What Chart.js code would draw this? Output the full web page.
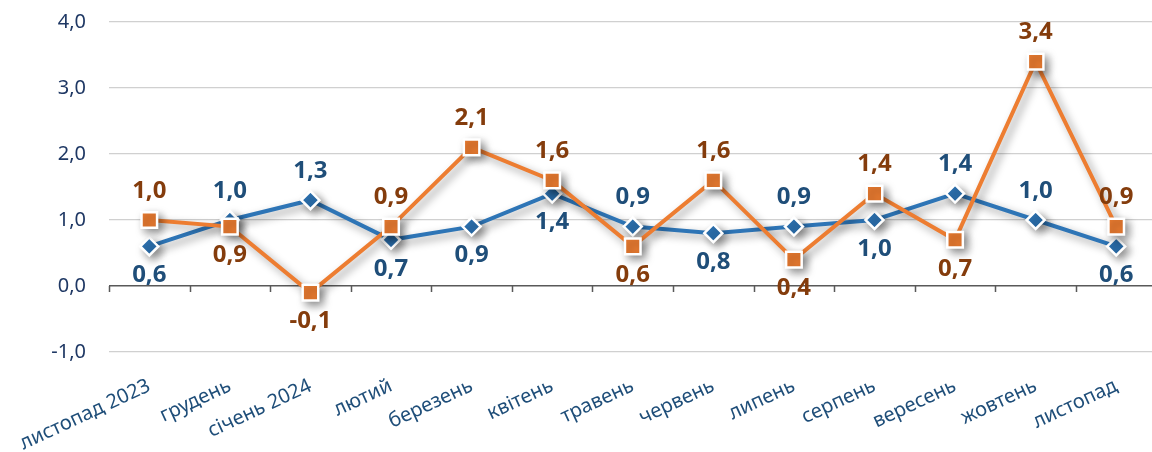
<!DOCTYPE html>
<html>
<head>
<meta charset="utf-8">
<script src="https://cdn.jsdelivr.net/npm/chart.js@4.4.1/dist/chart.umd.min.js"></script>
<style>
  html, body { margin: 0; padding: 0; background: #fff; overflow: hidden; }
  #wrap { width: 1170px; height: 452px; }
</style>
</head>
<body>
<div id="wrap"><canvas id="chart" width="1170" height="452"></canvas></div>
<script>
const months = ['листопад 2023', 'грудень', 'січень 2024', 'лютий', 'березень', 'квітень',
  'травень', 'червень', 'липень', 'серпень', 'вересень', 'жовтень', 'листопад'];
const blueValues = [0.6, 1.0, 1.3, 0.7, 0.9, 1.4, 0.9, 0.8, 0.9, 1.0, 1.4, 1.0, 0.6];
const orangeValues = [1.0, 0.9, -0.1, 0.9, 2.1, 1.6, 0.6, 1.6, 0.4, 1.4, 0.7, 3.4, 0.9];
const yTicks = [-1, 0, 1, 2, 3, 4];

// where each data label sits relative to its point (1 = above, -1 = below)
const blueLabelSide = [-1, 1, 1, -1, -1, -1, 1, -1, 1, -1, 1, 1, -1];
const orangeLabelSide = [1, -1, -1, 1, 1, 1, -1, 1, -1, 1, -1, 1, 1];

const fmt = v => v.toFixed(1).replace('.', ',');
const FONT = '"Noto Sans", "DejaVu Sans", sans-serif';

const shadowPlugin = {
  id: 'shadow',
  beforeDatasetsDraw(chart) {
    const ctx = chart.ctx;
    ctx.save();
    ctx.shadowColor = 'rgba(0,0,0,0.4)';
    ctx.shadowBlur = 8;
    ctx.shadowOffsetX = 4;
    ctx.shadowOffsetY = 4;
  },
  afterDatasetsDraw(chart) {
    chart.ctx.restore();
  }
};

// zero axis tick marks between categories
const zeroTicks = {
  id: 'zeroTicks',
  beforeDatasetsDraw(chart) {
    const { ctx, scales: { x, y } } = chart;
    const y0 = y.getPixelForValue(0);
    ctx.save();
    ctx.strokeStyle = '#595959';
    ctx.lineWidth = 1.5;
    ctx.beginPath();
    for (let i = 0; i <= months.length; i++) {
      const px = Math.round(x.getPixelForValue(i - 0.5)) + 0.5;
      ctx.moveTo(px, y0);
      ctx.lineTo(px, y0 + 6);
    }
    ctx.stroke();
    ctx.restore();
  }
};

const valueLabels = {
  id: 'valueLabels',
  afterDatasetsDraw(chart) {
    const ctx = chart.ctx;
    ctx.save();
    ctx.font = 'bold 24px ' + FONT;
    ctx.textAlign = 'center';
    ctx.textBaseline = 'middle';
    chart.data.datasets.forEach((ds, di) => {
      const meta = chart.getDatasetMeta(di);
      ctx.fillStyle = ds.labelColor;
      meta.data.forEach((pt, i) => {
        const side = ds.labelSide[i];
        ctx.fillText(fmt(ds.data[i]), pt.x, pt.y - side * 29);
      });
    });
    ctx.restore();
  }
};

new Chart(document.getElementById('chart'), {
  type: 'line',
  data: {
    labels: months,
    datasets: [
      {
        label: 'orange',
        data: orangeValues,
        order: 0,
        borderColor: '#ED7D31',
        backgroundColor: '#ED7D31',
        borderWidth: 4,
        pointStyle: 'rect',
        pointRadius: 11,
        pointBorderColor: '#ffffff',
        pointBorderWidth: 2.5,
        labelColor: '#843C0C',
        labelSide: orangeLabelSide,
        tension: 0
      },
      {
        label: 'blue',
        data: blueValues,
        order: 1,
        borderColor: '#2E75B6',
        backgroundColor: '#2E75B6',
        borderWidth: 4,
        pointStyle: 'rectRot',
        pointRadius: 9,
        pointBorderColor: '#ffffff',
        pointBorderWidth: 2.5,
        labelColor: '#1F4E79',
        labelSide: blueLabelSide,
        tension: 0
      }
    ]
  },
  options: {
    responsive: false,
    animation: false,
    layout: { padding: { top: 22, right: 2, left: 0, bottom: 0 } },
    plugins: {
      legend: { display: false },
      tooltip: { enabled: false }
    },
    scales: {
      x: {
        offset: true,
        grid: { display: false },
        border: { display: false },
        ticks: {
          color: '#1F4E79',
          font: { family: FONT, size: 20 },
          minRotation: 25,
          maxRotation: 25,
          autoSkip: false,
          padding: 14
        },
        afterFit(scale) { scale.height = 100; }
      },
      y: {
        min: -1,
        max: 4,
        afterBuildTicks(scale) { scale.ticks = yTicks.map(v => ({ value: v })); },
        grid: {
          drawTicks: true,
          tickLength: 20,
          tickColor: 'rgba(0,0,0,0)',
          color: ctx => ctx.tick && ctx.tick.value === 0 ? '#595959' : '#D0D0D0',
          lineWidth: ctx => ctx.tick && ctx.tick.value === 0 ? 1.5 : 1.3
        },
        border: { display: false },
        ticks: {
          color: '#1F3864',
          font: { family: FONT, size: 20 },
          padding: 3,
          callback: v => fmt(v)
        },
        afterFit(scale) { scale.width = 109; }
      }
    }
  },
  plugins: [zeroTicks, shadowPlugin, valueLabels]
});
</script>
</body>
</html>
